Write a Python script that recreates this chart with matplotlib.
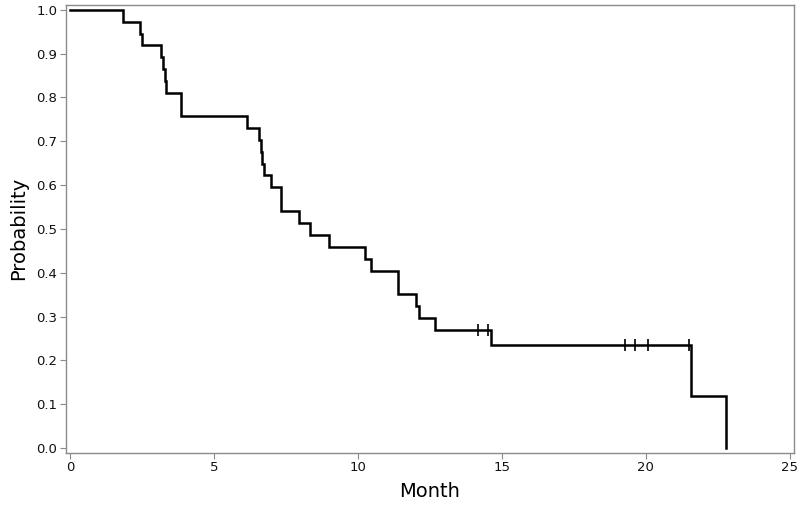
import numpy as np
import matplotlib
matplotlib.use("Agg")
import matplotlib.pyplot as plt

# Kaplan-Meier style curve
event_month = [1.82, 2.43, 2.49, 3.16, 3.22, 3.28, 3.34, 3.84, 6.13, 6.56,
               6.62, 6.67, 6.73, 6.96, 7.31, 7.94, 8.34, 9.00, 10.25, 10.45,
               11.38, 12.03, 12.11, 12.66, 14.61, 21.57, 22.79]
event_prob = [0.973, 0.946, 0.919, 0.892, 0.865, 0.838, 0.811, 0.757, 0.730, 0.703,
              0.676, 0.649, 0.622, 0.595, 0.541, 0.514, 0.486, 0.459, 0.432, 0.405,
              0.351, 0.324, 0.297, 0.270, 0.236, 0.118, 0.0]

# censored observations
censor_month = [14.18, 14.50, 19.29, 19.61, 20.06, 21.50]
censor_prob = [0.270, 0.270, 0.236, 0.236, 0.236, 0.236]

x_ticks = [0, 5, 10, 15, 20, 25]
y_ticks = [0.0, 0.1, 0.2, 0.3, 0.4, 0.5, 0.6, 0.7, 0.8, 0.9, 1.0]

fig = plt.figure(figsize=(8, 5.11), dpi=100)
ax = fig.add_axes([0.082, 0.114, 0.911, 0.877])

x = [0.0] + event_month
y = [1.0] + event_prob
ax.step(x, y, where='post', color='black', linewidth=1.8, solid_joinstyle='miter')
ax.plot(censor_month, censor_prob, linestyle='none', marker='|',
        markersize=8, markeredgewidth=1.2, color='black')

ax.set_xlim(-0.16, 25.16)
ax.set_ylim(-0.0107, 1.012)
ax.set_xticks(x_ticks)
ax.set_yticks(y_ticks)
ax.set_yticklabels([f"{v:.1f}" for v in y_ticks])

for s in ax.spines.values():
    s.set_color('#8a8a8a')
    s.set_linewidth(1.0)
ax.tick_params(direction='out', length=4, width=0.8, color='#8a8a8a',
               labelsize=9.5, labelcolor='#111111', pad=2)

ax.set_xlabel("Month", fontsize=14, labelpad=6)
ax.set_ylabel("Probability", fontsize=14, labelpad=6)

fig.savefig("out.png", dpi=100)
